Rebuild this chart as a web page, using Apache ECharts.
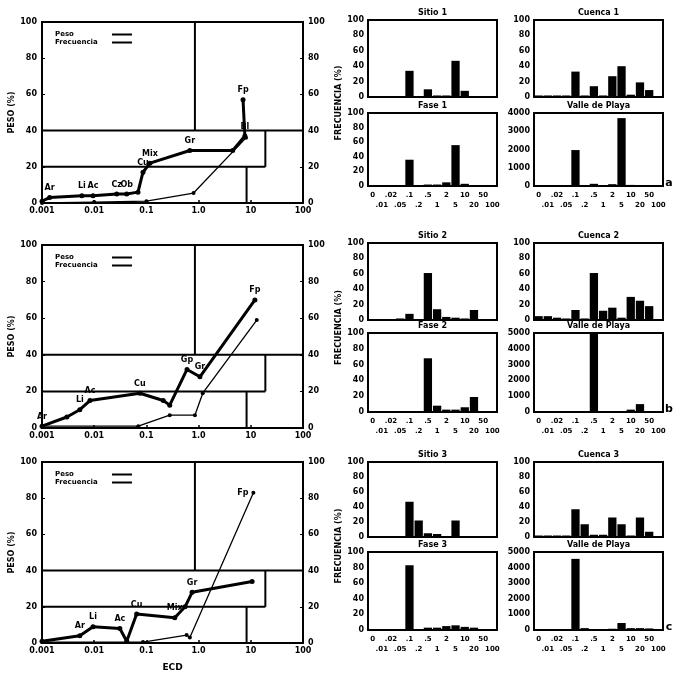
<!DOCTYPE html>
<html>
<head>
<meta charset="utf-8">
<script src="https://cdn.jsdelivr.net/npm/echarts@6/dist/echarts.min.js"></script>
<style>
  html, body { margin: 0; padding: 0; background: #fff; }
  #chart { width: 674px; height: 676px; }
</style>
</head>
<body>
<div id="chart"></div>
<script>
// ---- cumulative curves (log x axis) ----
const xTickLabels = ['0.001', '0.01', '0.1', '1.0', '10', '100'];
const seriesNames = ['Peso', 'Frecuencia'];

// zone boundaries drawn inside every cumulative plot
const zoneLines = [
  [[0.85, 100], [0.85, 40]],
  [[0.001, 40], [100, 40]],
  [[19, 40], [19, 20]],
  [[0.001, 20], [19, 20]],
  [[8.3, 20], [8.3, 0]]
];

const pesoA = [[0.001, 1], [0.0014, 3], [0.0058, 4], [0.0095, 4], [0.027, 5], [0.042, 5], [0.069, 6], [0.086, 17], [0.117, 22], [0.68, 29], [4.5, 29], [7.7, 37], [7.1, 57]];
const pesoALabels = ['', 'Ar', 'Li', 'Ac', 'Cz', 'Ob', '', 'Cu', 'Mix', 'Gr', '', 'Bl', 'Fp'];
const frecA = [[0.001, 0], [0.01, 0.5], [0.1, 1], [0.8, 5.5], [8.1, 36]];
const frecALabels = ['', '', '', '', ''];

const pesoB = [[0.001, 1], [0.003, 6], [0.0053, 10], [0.0083, 15], [0.075, 19], [0.21, 15], [0.28, 12.5], [0.6, 32], [1.06, 28], [12, 70]];
const pesoBLabels = ['Ar', '', 'Li', 'Ac', 'Cu', '', '', 'Gp', 'Gr', 'Fp'];
const frecB = [[0.001, 1], [0.07, 1], [0.28, 7], [0.85, 7], [1.2, 19], [13, 59]];
const frecBLabels = ['', '', '', '', '', ''];

const pesoC = [[0.001, 1], [0.0053, 4], [0.0095, 9], [0.031, 8], [0.042, 1], [0.065, 16], [0.35, 14], [0.55, 20], [0.75, 28], [10.6, 34]];
const pesoCLabels = ['', 'Ar', 'Li', 'Ac', '', 'Cu', 'Mix', '', 'Gr', ''];
const frecC = [[0.001, 0.5], [0.086, 0.5], [0.59, 4.4], [0.68, 3], [11.2, 83]];
const frecCLabels = ['', '', '', '', 'Fp'];

// ---- frequency histograms ----
const histCategories = ['0', '.01', '.02', '.05', '.1', '.2', '.5', '1', '2', '5', '10', '20', '50', '100'];

const sitio1  = [1, 1, 1, 1, 34, 1, 10, 2, 2, 47, 8, 1, 0, 0];
const cuenca1 = [2, 2, 2, 2, 33, 2, 14, 2, 27, 40, 3, 19, 9, 1];
const fase1   = [1, 1, 1, 1, 36, 1, 2, 2, 5, 56, 3, 1, 0, 0];
const valle1  = [20, 20, 20, 20, 1970, 30, 120, 40, 100, 3720, 60, 20, 0, 0];

const sitio2  = [1, 1, 1, 2, 8, 1, 61, 14, 4, 3, 2, 13, 1, 0];
const cuenca2 = [5, 5, 3, 2, 13, 2, 61, 12, 16, 3, 30, 25, 18, 0];
const fase2   = [1, 1, 1, 1, 1, 1, 68, 8, 3, 3, 6, 19, 1, 0];
const valle2  = [20, 20, 20, 20, 20, 20, 4950, 60, 40, 40, 150, 500, 40, 0];

const sitio3  = [1, 1, 1, 1, 47, 22, 5, 4, 1, 22, 1, 1, 0, 0];
const cuenca3 = [2, 2, 2, 2, 37, 17, 3, 3, 26, 17, 2, 26, 7, 1];
const fase3   = [1, 1, 1, 1, 83, 1, 3, 3, 5, 6, 4, 3, 1, 0];
const valle3  = [20, 20, 20, 20, 4560, 120, 60, 60, 80, 450, 120, 120, 100, 20];

const histTitles = [
  ['Sitio 1', 'Cuenca 1', 'Fase 1', 'Valle de Playa'],
  ['Sitio 2', 'Cuenca 2', 'Fase 2', 'Valle de Playa'],
  ['Sitio 3', 'Cuenca 3', 'Fase 3', 'Valle de Playa']
];
const countMax = [4000, 5000, 5000];
const rowTags = ['a', 'b', 'c'];

// ---- assemble ----
const rows = [
  { peso: pesoA, pesoLab: pesoALabels, frec: frecA, frecLab: frecALabels, hist: [sitio1, cuenca1, fase1, valle1] },
  { peso: pesoB, pesoLab: pesoBLabels, frec: frecB, frecLab: frecBLabels, hist: [sitio2, cuenca2, fase2, valle2] },
  { peso: pesoC, pesoLab: pesoCLabels, frec: frecC, frecLab: frecCLabels, hist: [sitio3, cuenca3, fase3, valle3] }
];

const FONT = 'DejaVu Sans';
const txt = (size) => ({ fontFamily: FONT, fontSize: size, fontWeight: 'bold', color: '#000' });

// layout of the panels
const leftBox = [{ top: 22, h: 181 }, { top: 245, h: 183 }, { top: 462, h: 181 }];
const histRowBox = [
  [{ top: 20, h: 77 }, { top: 113, h: 73 }],
  [{ top: 243, h: 77 }, { top: 333, h: 79 }],
  [{ top: 462, h: 75 }, { top: 552, h: 78 }]
];
const histCols = [{ left: 368, w: 129 }, { left: 534, w: 129 }];

const grid = [], xAxis = [], yAxis = [], series = [], legend = [], graphic = [];

rows.forEach((row, r) => {
  // cumulative plot
  const gi = grid.length;
  grid.push({ left: 42, top: leftBox[r].top, width: 261, height: leftBox[r].h, show: true,
    borderColor: '#000', borderWidth: 2, backgroundColor: 'transparent', outerBoundsMode: 'none' });
  xAxis.push({
    type: 'log', logBase: 10, min: 0.001, max: 100, gridIndex: gi,
    name: r === 2 ? 'ECD' : '', nameLocation: 'middle', nameGap: 20, nameTextStyle: txt(9),
    axisLine: { lineStyle: { color: '#000', width: 2 } },
    axisTick: { inside: true, length: 3, lineStyle: { color: '#000', width: 1.5 } },
    minorTick: { show: false },
    splitLine: { show: false },
    axisLabel: { ...txt(8), margin: 4,
      formatter: v => xTickLabels[Math.round(Math.log10(v)) + 3] }
  });
  const yl = yAxis.length;
  yAxis.push({
    type: 'value', min: 0, max: 100, interval: 20, gridIndex: gi, position: 'left',
    name: 'PESO (%)', nameLocation: 'middle', nameGap: 26, nameTextStyle: txt(8),
    axisLine: { show: true, lineStyle: { color: '#000', width: 2 } },
    axisTick: { inside: true, length: 3, lineStyle: { color: '#000' } },
    splitLine: { show: false },
    axisLabel: { ...txt(8), margin: 5 }
  });
  yAxis.push({
    type: 'value', min: 0, max: 100, interval: 20, gridIndex: gi, position: 'right',
    axisLine: { show: true, lineStyle: { color: '#000', width: 2 } },
    axisTick: { inside: true, length: 3, lineStyle: { color: '#000' } },
    splitLine: { show: false },
    axisLabel: { ...txt(8), margin: 5 }
  });

  zoneLines.forEach(seg => series.push({
    type: 'line', xAxisIndex: gi, yAxisIndex: yl, data: seg, symbol: 'none', silent: true,
    lineStyle: { color: '#000', width: 2 }, z: 1, animation: false
  }));

  series.push({
    name: seriesNames[0], type: 'line', xAxisIndex: gi, yAxisIndex: yl, data: row.peso,
    symbol: 'circle', symbolSize: 5, itemStyle: { color: '#000' },
    lineStyle: { color: '#000', width: 3 }, z: 3, animation: false,
    label: { show: true, position: 'top', distance: 3, ...txt(8),
      formatter: p => row.pesoLab[p.dataIndex] }
  });
  series.push({
    name: seriesNames[1], type: 'line', xAxisIndex: gi, yAxisIndex: yl, data: row.frec,
    symbol: 'circle', symbolSize: 4, itemStyle: { color: '#000' },
    lineStyle: { color: '#000', width: 1.3 }, z: 2, animation: false,
    label: { show: true, position: 'left', distance: 3, ...txt(8),
      formatter: p => row.frecLab[p.dataIndex] }
  });

  legend.push({
    data: seriesNames, left: 50, top: leftBox[r].top + 4, orient: 'vertical',
    itemGap: 1, itemWidth: 20, itemHeight: 2, icon: 'rect', align: 'right',
    formatter: '{n|{name}}',
    textStyle: { ...txt(7), rich: { n: { ...txt(7), width: 52, align: 'left' } } },
    selectedMode: false
  });

  // four histograms
  for (let k = 0; k < 4; k++) {
    const box = histRowBox[r][k >> 1];
    const col = histCols[k & 1];
    const isBottom = k >= 2;
    const hg = grid.length;
    grid.push({ left: col.left, top: box.top, width: col.w, height: box.h, show: true,
      borderColor: '#000', borderWidth: 2, backgroundColor: 'transparent', outerBoundsMode: 'none' });
    xAxis.push({
      type: 'category', data: histCategories, gridIndex: hg,
      axisLine: { lineStyle: { color: '#000', width: 2 } },
      axisTick: { show: false },
      axisLabel: { show: isBottom, interval: 0, ...txt(7), margin: 4, lineHeight: 10,
        formatter: (v, i) => (i % 2 ? '\n' + v : v) }
    });
    const yi = yAxis.length;
    const isCount = k === 3;
    yAxis.push({
      type: 'value', gridIndex: hg, min: 0,
      max: isCount ? countMax[r] : 100, interval: isCount ? 1000 : 20,
      axisLine: { show: true, lineStyle: { color: '#000', width: 2 } },
      axisTick: { show: false },
      splitLine: { show: false },
      axisLabel: { ...txt(8), margin: 4, formatter: v => String(v) }
    });
    series.push({
      type: 'bar', xAxisIndex: hg, yAxisIndex: yi, data: row.hist[k],
      barCategoryGap: '10%', itemStyle: { color: '#000' }, animation: false, silent: true
    });
    graphic.push({
      type: 'text', x: col.left + col.w / 2, y: box.top - 7,
      style: { text: histTitles[r][k], font: 'bold 8px "DejaVu Sans"', fill: '#000',
        textAlign: 'center', textVerticalAlign: 'middle' }
    });
  }

  const hTop = histRowBox[r][0].top, hBot = histRowBox[r][1].top + histRowBox[r][1].h;
  graphic.push({
    type: 'text', x: 339, y: (hTop + hBot) / 2, rotation: Math.PI / 2,
    style: { text: 'FRECUENCIA (%)', font: 'bold 8px "DejaVu Sans"', fill: '#000',
      textAlign: 'center', textVerticalAlign: 'middle' }
  });
  graphic.push({
    type: 'text', x: 669, y: hBot - 3,
    style: { text: rowTags[r], font: 'bold 11px "DejaVu Sans"', fill: '#000',
      textAlign: 'center', textVerticalAlign: 'middle' }
  });
});

const chart = echarts.init(document.getElementById('chart'), null, { renderer: 'canvas' });
chart.setOption({
  backgroundColor: '#fff',
  animation: false,
  grid, xAxis, yAxis, series, legend, graphic
});
</script>
</body>
</html>
